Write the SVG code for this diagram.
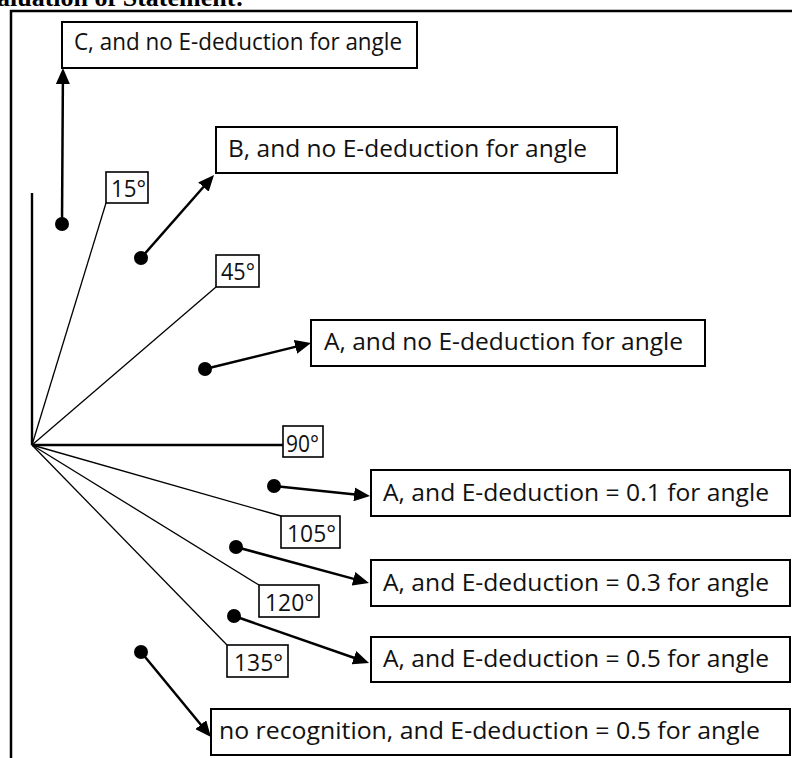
<svg xmlns="http://www.w3.org/2000/svg" width="792" height="758" viewBox="0 0 792 758">
  <defs>
    <marker id="arrow" markerUnits="userSpaceOnUse" markerWidth="16" markerHeight="14" viewBox="0 0 16 14" refX="6" refY="7" orient="auto">
      <path d="M0,0 L16,7 L0,14 z" fill="#000"/>
    </marker>
    <style>
      .box { fill: #fff; stroke: #000; stroke-width: 2; }
      .deg { fill: #fff; stroke: #000; stroke-width: 1.6; }
      .lbl { font-family: "Open Sans", "Noto Sans", sans-serif; font-size: 24.5px; fill: #111; font-variant-ligatures: none; }
      .axis { stroke: #000; stroke-width: 2.4; fill: none; }
      .ray { stroke: #000; stroke-width: 1.3; fill: none; }
      .conn { stroke: #000; stroke-width: 2.5; fill: none; marker-end: url(#arrow); }
      .dot { fill: #000; }
      .hdr { font-family: "Liberation Serif", "Times New Roman", serif; font-weight: bold; font-size: 26px; fill: #000; }
    </style>
  </defs>
  <rect width="792" height="758" fill="#fff"/>

  <text class="hdr" x="-3" y="6">aluation of Statement:</text>
  <path id="frame" d="M11,758 V11 H792" stroke="#000" stroke-width="2.5" fill="none"/>

  <g id="angle-figure">
    <line class="axis" x1="32" y1="193" x2="32" y2="445"/>
    <line class="axis" x1="32" y1="445" x2="283" y2="445"/>
    <line class="ray" x1="32" y1="445" x2="106" y2="203"/>
    <line class="ray" x1="32" y1="445" x2="216" y2="287"/>
    <line class="ray" x1="32" y1="445" x2="281" y2="516"/>
    <line class="ray" x1="32" y1="445" x2="259" y2="585"/>
    <line class="ray" x1="32" y1="445" x2="227" y2="645"/>
  </g>

  <g id="connectors">
    <circle class="dot" cx="62" cy="224" r="7"/>
    <line class="conn" x1="62" y1="224" x2="62.9" y2="78"/>
    <circle class="dot" cx="141" cy="258" r="7"/>
    <line class="conn" x1="141" y1="258" x2="207.4" y2="182.5"/>
    <circle class="dot" cx="205" cy="369" r="7"/>
    <line class="conn" x1="205" y1="369" x2="301.3" y2="345.4"/>
    <circle class="dot" cx="274" cy="486" r="7"/>
    <line class="conn" x1="274" y1="486" x2="360.1" y2="495"/>
    <circle class="dot" cx="236" cy="547" r="7"/>
    <line class="conn" x1="236" y1="547" x2="359.3" y2="580.4"/>
    <circle class="dot" cx="234" cy="616" r="7"/>
    <line class="conn" x1="234" y1="616" x2="359.6" y2="659.7"/>
    <circle class="dot" cx="141" cy="652" r="7"/>
    <line class="conn" x1="141" y1="652" x2="204.6" y2="729.3"/>
  </g>

  <g id="label-15">
    <rect class="deg" x="106" y="172" width="42" height="31"/>
    <text class="lbl" x="111" y="197" textLength="35" lengthAdjust="spacingAndGlyphs">15°</text>
  </g>
  <g id="label-45">
    <rect class="deg" x="216" y="255" width="43" height="32"/>
    <text class="lbl" x="221" y="280" textLength="34" lengthAdjust="spacingAndGlyphs">45°</text>
  </g>
  <g id="label-90">
    <rect class="deg" x="283" y="426" width="40" height="31"/>
    <text class="lbl" x="286" y="452" textLength="33" lengthAdjust="spacingAndGlyphs">90°</text>
  </g>
  <g id="label-105">
    <rect class="deg" x="281" y="516" width="59" height="32"/>
    <text class="lbl" x="287" y="542" textLength="49" lengthAdjust="spacingAndGlyphs">105°</text>
  </g>
  <g id="label-120">
    <rect class="deg" x="259" y="585" width="60" height="32"/>
    <text class="lbl" x="265" y="611" textLength="49" lengthAdjust="spacingAndGlyphs">120°</text>
  </g>
  <g id="label-135">
    <rect class="deg" x="227" y="645" width="61" height="32"/>
    <text class="lbl" x="234" y="671" textLength="49" lengthAdjust="spacingAndGlyphs">135°</text>
  </g>

  <g id="node-c">
    <rect class="box" x="62" y="22" width="355" height="46"/>
    <text class="lbl" x="74" y="50" font-size="23" textLength="328" lengthAdjust="spacingAndGlyphs">C, and no E-deduction for angle</text>
  </g>
  <g id="node-b">
    <rect class="box" x="216" y="127" width="401" height="46"/>
    <text class="lbl" x="228" y="157" textLength="359" lengthAdjust="spacingAndGlyphs">B, and no E-deduction for angle</text>
  </g>
  <g id="node-a">
    <rect class="box" x="311" y="320" width="394" height="46"/>
    <text class="lbl" x="324" y="350" textLength="359" lengthAdjust="spacingAndGlyphs">A, and no E-deduction for angle</text>
  </g>
  <g id="node-a-01">
    <rect class="box" x="371" y="470" width="419" height="46"/>
    <text class="lbl" x="383" y="501" textLength="386" lengthAdjust="spacingAndGlyphs">A, and E-deduction = 0.1 for angle</text>
  </g>
  <g id="node-a-03">
    <rect class="box" x="371" y="560" width="419" height="46"/>
    <text class="lbl" x="383" y="591" textLength="386" lengthAdjust="spacingAndGlyphs">A, and E-deduction = 0.3 for angle</text>
  </g>
  <g id="node-a-05">
    <rect class="box" x="371" y="637" width="419" height="45"/>
    <text class="lbl" x="383" y="667" textLength="386" lengthAdjust="spacingAndGlyphs">A, and E-deduction = 0.5 for angle</text>
  </g>
  <g id="node-none">
    <rect class="box" x="211" y="709" width="579" height="46"/>
    <text class="lbl" x="219" y="739" textLength="541" lengthAdjust="spacingAndGlyphs">no recognition, and E-deduction = 0.5 for angle</text>
  </g>
</svg>
